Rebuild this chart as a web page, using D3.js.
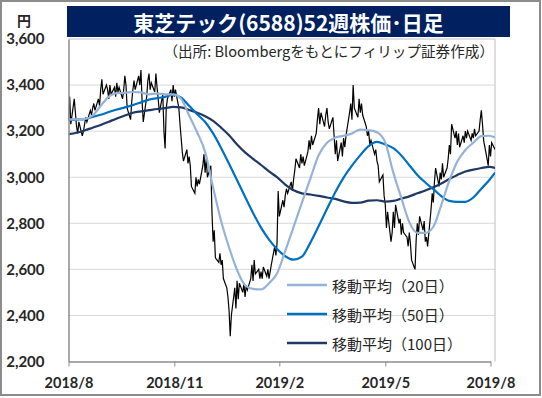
<!DOCTYPE html>
<html lang="ja">
<head>
    <meta charset="UTF-8">
    <title>東芝テック(6588)52週株価・日足</title>
    <script src="https://d3js.org/d3.v7.min.js"></script>
    <style>
        body {
            margin: 0;
            background-color: #fff;
        }
        svg {
            display: block;
        }
        .tick-label {
            font-family: 'Lato', 'Noto Sans', sans-serif;
            font-weight: bold;
            fill: #262626;
        }
        .jp {
            font-family: 'Noto Sans CJK JP', sans-serif;
        }
    </style>
</head>
<body>
    <script>
        // 日足終値 (2018/8/1 からの平日ごと)
        const closePrices = [
            3250, 3350, 3230, 3340, 3280,
            3220, 3190, 3240, 3180, 3200,
            3230, 3260, 3240, 3290, 3270, 3300,
            3320, 3290, 3340, 3310,
            3380, 3425, 3360, 3400,
            3380, 3340, 3400, 3360, 3390, 3350, 3410, 3370, 3390, 3340, 3380, 3440, 3400,
            3300, 3250, 3330, 3380,
            3420, 3380, 3440, 3400, 3465,
            3330, 3240, 3350,
            3420, 3450, 3380, 3410, 3370, 3450, 3390,
            3340, 3280, 3360, 3200, 3125,
            3300, 3340, 3380, 3330, 3400, 3350, 3380,
            3300, 3230, 3170,
            3110, 3070, 3120, 3060, 3090, 3050,
            2960, 2930, 3000, 2960, 2990, 2970,
            3050, 3100, 3020, 3080,
            3000, 3050,
            2850,
            2720, 2770,
            2650, 2630, 2670, 2620, 2640,
            2560, 2520,
            2480, 2420, 2310, 2400,
            2520, 2430, 2550, 2470, 2540,
            2500, 2540, 2480, 2530, 2510,
            2560, 2620, 2550, 2640, 2580, 2600, 2560,
            2590, 2560, 2610, 2570, 2600, 2560, 2590,
            2620, 2700, 2660, 2710,
            2940, 2830,
            2900, 2870, 2920,
            2950, 2930, 2980, 2940, 2990,
            3030, 3080, 3040, 3100, 3060, 3090, 3050,
            3110, 3160, 3120, 3180, 3140, 3190,
            3250, 3300, 3230, 3280, 3220, 3270, 3300, 3240,
            3210, 3260,
            3180, 3100, 3160, 3070, 3150, 3090,
            3170, 3130, 3180,
            3280, 3320, 3250, 3400,
            3300, 3260, 3340, 3280, 3320, 3270,
            3220, 3180, 3200, 3140, 3160, 3100, 3120, 3070,
            3050, 2980, 3010, 2920,
            2880, 2780, 2850, 2720, 2760,
            2850, 2780, 2880, 2800,
            2820, 2750, 2800, 2760,
            2740, 2700, 2760, 2710,
            2640, 2600,
            2730, 2800, 2750, 2830, 2770, 2810, 2720,
            2740, 2700,
            2860, 2930, 2890,
            2980, 3040, 2960,
            3020, 2990, 3060, 3000, 3040,
            3080, 3140, 3100,
            3230, 3170,
            3200, 3140, 3190, 3130, 3180, 3150, 3200,
            3170, 3200, 3160, 3190, 3170, 3210, 3180, 3200,
            3250, 3290, 3230,
            3160, 3080, 3050,
            3140, 3090, 3150, 3120
        ];

        // 移動平均 (5営業日ごとの読み取り値)
        const maSteps = d3.range(0, 261, 5).concat([263]);
        const ma20 = [3251, 3251, 3253, 3268, 3310, 3350, 3365, 3366, 3370, 3368, 3360, 3363, 3360, 3360, 3340, 3268, 3195, 3110, 2955, 2810, 2695, 2597, 2531, 2515, 2513, 2540, 2582, 2680, 2784, 2890, 2993, 3095, 3150, 3172, 3180, 3190, 3207, 3204, 3195, 3150, 3020, 2910, 2805, 2758, 2758, 2785, 2880, 2985, 3068, 3118, 3150, 3178, 3180, 3172];
        const ma50 = [3248, 3250, 3252, 3262, 3271, 3283, 3294, 3303, 3313, 3325, 3337, 3343, 3349, 3358, 3345, 3310, 3273, 3240, 3190, 3127, 3058, 2987, 2915, 2845, 2781, 2729, 2688, 2657, 2642, 2655, 2715, 2787, 2862, 2935, 2998, 3050, 3096, 3135, 3153, 3142, 3126, 3094, 3052, 3010, 2977, 2948, 2918, 2897, 2893, 2893, 2912, 2950, 2988, 3020];
        const ma100 = [3187, 3193, 3203, 3215, 3227, 3241, 3255, 3268, 3280, 3286, 3291, 3296, 3300, 3305, 3303, 3292, 3280, 3265, 3245, 3215, 3182, 3142, 3108, 3080, 3053, 3025, 3000, 2968, 2943, 2930, 2925, 2919, 2912, 2906, 2895, 2889, 2890, 2898, 2900, 2894, 2897, 2907, 2917, 2930, 2942, 2956, 2973, 2992, 3010, 3025, 3033, 3040, 3045, 3040];

        const xTickLabels = ["2018/8", "2018/11", "2019/2", "2019/5", "2019/8"];
        const xTickDates = [new Date(2018, 7, 1), new Date(2018, 10, 1), new Date(2019, 1, 1), new Date(2019, 4, 1), new Date(2019, 7, 1)];
        const yTicks = [2200, 2400, 2600, 2800, 3000, 3200, 3400, 3600];
        const legendNames = ["移動平均（20日）", "移動平均（50日）", "移動平均（100日）"];
        const maColors = ["#95b3d7", "#0070c0", "#1f3864"];

        const width = 542;
        const height = 398;
        const plot = { left: 68.5, right: 495, top: 39, bottom: 361.5 };

        const tradingDays = d3.timeDay.range(new Date(2018, 7, 1), new Date(2019, 7, 6))
            .filter(d => d.getDay() !== 0 && d.getDay() !== 6);

        const svg = d3.select("body")
            .append("svg")
            .attr("width", width)
            .attr("height", height);

        svg.append("rect")
            .attr("x", 1).attr("y", 1)
            .attr("width", 539).attr("height", 394)
            .attr("fill", "#fff")
            .attr("stroke", "#8c8c8c")
            .attr("stroke-width", 2);

        // タイトル
        svg.append("rect")
            .attr("x", 67).attr("y", 6)
            .attr("width", 443).attr("height", 31)
            .attr("fill", "#002060");
        svg.append("text")
            .attr("class", "jp")
            .attr("x", 288.5).attr("y", 22)
            .attr("text-anchor", "middle")
            .attr("dominant-baseline", "central")
            .attr("font-size", 21)
            .attr("font-weight", "bold")
            .attr("fill", "#fff")
            .text("東芝テック(6588)52週株価･日足");

        svg.append("text")
            .attr("class", "jp")
            .attr("x", 24).attr("y", 20)
            .attr("text-anchor", "middle")
            .attr("dominant-baseline", "central")
            .attr("font-size", 14)
            .attr("font-weight", "bold")
            .attr("fill", "#262626")
            .text("円");

        const x = d3.scaleTime()
            .domain(xTickDates)
            .range([68.5, 174.3, 279.3, 385.3, 490.5]);

        const y = d3.scaleLinear()
            .domain([2200, 3600])
            .range([plot.bottom, plot.top]);

        // グリッド線
        svg.append("g")
            .selectAll("line")
            .data(yTicks.filter(v => v > 2200 && v < 3600))
            .enter().append("line")
            .attr("x1", plot.left).attr("x2", plot.right)
            .attr("y1", d => y(d)).attr("y2", d => y(d))
            .attr("stroke", "#d9d9d9")
            .attr("stroke-width", 1);

        svg.append("path")
            .attr("d", `M${plot.left},${y(3600)}H${plot.right}V${plot.bottom}`)
            .attr("fill", "none")
            .attr("stroke", "#bfbfbf")
            .attr("stroke-width", 1);

        svg.append("text")
            .attr("class", "jp")
            .attr("x", 494).attr("y", 57)
            .attr("text-anchor", "end")
            .attr("font-size", 14.6)
            .attr("fill", "#262626")
            .text("（出所: Bloombergをもとにフィリップ証券作成）");

        svg.append("clipPath")
            .attr("id", "plot-clip")
            .append("rect")
            .attr("x", plot.left).attr("y", plot.top)
            .attr("width", plot.right - plot.left)
            .attr("height", plot.bottom - plot.top);

        const lines = svg.append("g").attr("clip-path", "url(#plot-clip)");

        const priceLine = d3.line()
            .x((d, i) => x(tradingDays[i]))
            .y(d => y(d));

        lines.append("path")
            .datum(closePrices)
            .attr("d", priceLine)
            .attr("fill", "none")
            .attr("stroke", "#000")
            .attr("stroke-width", 1.2);

        const maLine = d3.line()
            .x((d, i) => x(tradingDays[maSteps[i]]))
            .y(d => y(d))
            .curve(d3.curveMonotoneX);

        [ma100, ma50, ma20].forEach((series, k) => {
            lines.append("path")
                .datum(series)
                .attr("d", maLine)
                .attr("fill", "none")
                .attr("stroke", maColors[2 - k])
                .attr("stroke-width", 2.2);
        });

        // 軸
        const xAxis = svg.append("g")
            .attr("transform", `translate(0,${plot.bottom})`)
            .call(d3.axisBottom(x)
                .tickValues(xTickDates)
                .tickFormat((d, i) => xTickLabels[i])
                .tickSize(5)
                .tickSizeOuter(0)
                .tickPadding(11));
        xAxis.select(".domain").attr("stroke", "#8c8c8c").attr("stroke-width", 1.5);
        xAxis.selectAll(".tick line").attr("stroke", "#8c8c8c");
        xAxis.selectAll(".tick text")
            .attr("class", "tick-label")
            .attr("font-size", 14.5);

        const yAxis = svg.append("g")
            .attr("transform", `translate(${plot.left},0)`)
            .call(d3.axisLeft(y)
                .tickValues(yTicks)
                .tickFormat(d3.format(","))
                .tickSize(0)
                .tickPadding(24));
        yAxis.select(".domain").attr("stroke", "#8c8c8c").attr("stroke-width", 1.5);
        yAxis.selectAll(".tick text")
            .attr("class", "tick-label")
            .attr("font-size", 15);

        // 凡例
        const legend = svg.append("g")
            .selectAll("g")
            .data(legendNames)
            .enter().append("g")
            .attr("transform", (d, i) => `translate(287,${[285, 314, 343][i]})`);

        legend.append("line")
            .attr("x1", 0).attr("x2", 40)
            .attr("stroke", (d, i) => maColors[i])
            .attr("stroke-width", 2.5);

        legend.append("text")
            .attr("class", "jp")
            .attr("x", 45)
            .attr("dominant-baseline", "central")
            .attr("font-size", 15)
            .attr("fill", "#262626")
            .text(d => d);
    </script>
</body>
</html>
